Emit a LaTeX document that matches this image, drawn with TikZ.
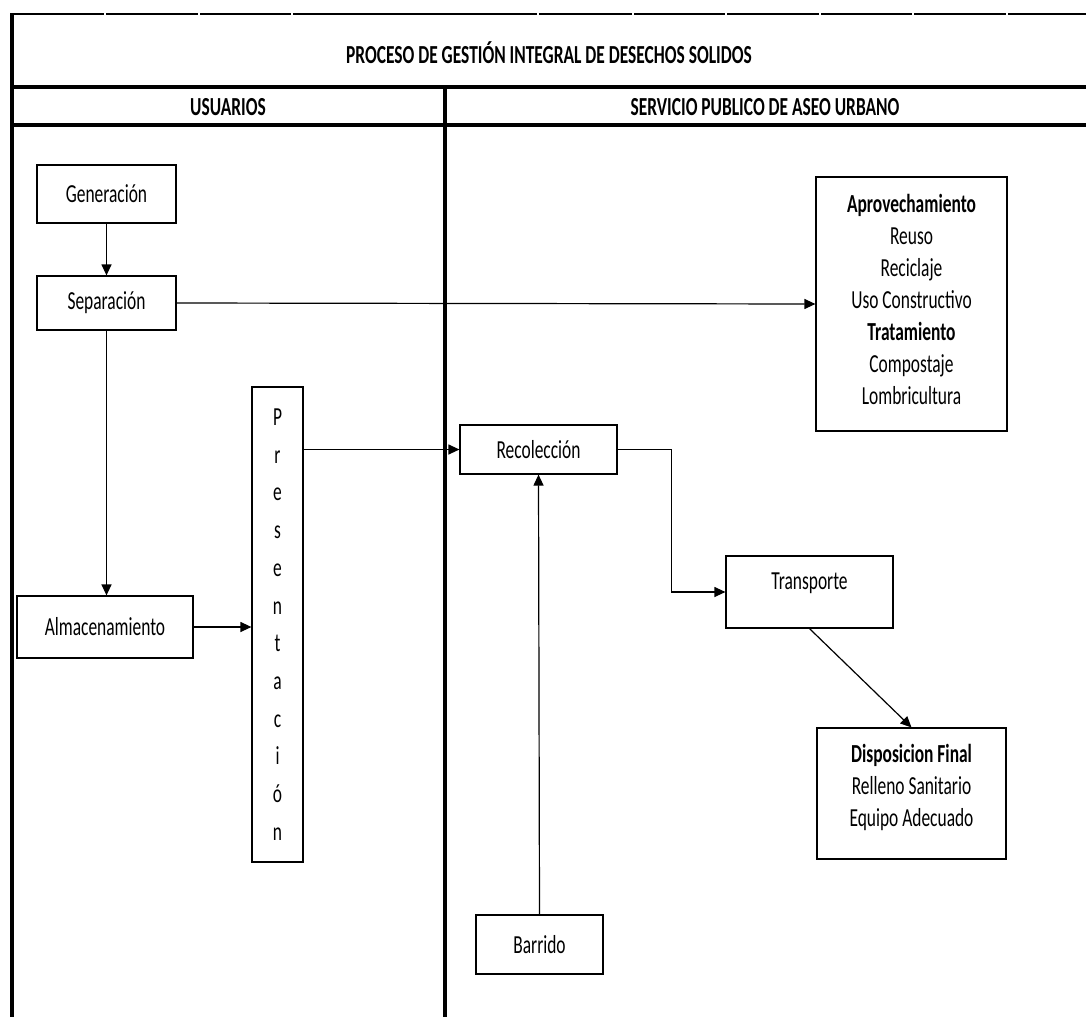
\documentclass[tikz,border=0pt]{standalone}
\usepackage{fontspec}
\setmainfont{Carlito}[FakeStretch=0.67]
\usetikzlibrary{arrows.meta}

\begin{document}
\begin{tikzpicture}[x=1pt,y=-1pt,
	caja/.style={draw,line width=1.2pt,inner sep=0pt,align=center,font=\fontsize{26}{32}\selectfont},
	flecha/.style={line width=1.2pt,-{Triangle[length=11pt,width=10pt]}},
	rejilla/.style={line width=3.5pt},
	titulo/.style={font=\bfseries\fontsize{26}{32}\selectfont}]
	\useasboundingbox (0,0) rectangle (1086,1017);
	% tabla
	\draw[line width=2pt] (12,14) -- (1086,14);
	\foreach \gx in {105,199,292,538,633,726,820,913,1007}
		\draw[white,line width=1.2pt] (\gx,12.5) -- (\gx,15.5);
	\draw[rejilla] (12,13) -- (12,1017);
	\draw[rejilla] (12,87) -- (1086,87);
	\draw[rejilla] (12,125) -- (1086,125);
	\draw[rejilla] (445,87) -- (445,1017);
	\node[titulo] at (549,53) (tit) {PROCESO DE GESTIÓN INTEGRAL DE DESECHOS SOLIDOS};
	\node[titulo] at (228,107) (usu) {USUARIOS};
	\node[titulo] at (765,107) (serv) {SERVICIO PUBLICO DE ASEO URBANO};
	% usuarios
	\node[caja,minimum width=139pt,minimum height=58pt] at (106.5,194) (gen) {Generación};
	\node[caja,minimum width=139pt,minimum height=54pt] at (106.5,303) (sep) {Separación};
	\node[caja,minimum width=176pt,minimum height=62pt] at (105,627) (alm) {Almacenamiento};
	\node[caja,minimum width=51pt,minimum height=475pt,font=\fontsize{26}{37.7}\selectfont] at (277.5,624.5) (pres)
		{P\\r\\e\\s\\e\\n\\t\\a\\c\\i\\ó\\n};
	% servicio
	\node[caja,minimum width=157pt,minimum height=49pt] at (538.5,449.5) (rec) {Recolección};
	\node[caja,minimum width=167pt,minimum height=72pt,
		label={[yshift=9pt,font=\fontsize{26}{32}\selectfont]center:Transporte}] at (809.5,592) (trans) {};
	\node[caja,minimum width=127pt,minimum height=59pt] at (539.5,944.5) (barr) {Barrido};
	\node[caja,minimum width=191pt,minimum height=254pt,
		label={[yshift=5pt,align=center,font=\fontsize{26}{32}\selectfont]center:{\textbf{Aprovechamiento}\\Reuso\\Reciclaje\\Uso Constructivo\\\textbf{Tratamiento}\\Compostaje\\Lombricultura}}]
		at (911.5,304) (aprov) {};
	\node[caja,minimum width=189pt,minimum height=131pt,
		label={[yshift=6pt,align=center,font=\fontsize{26}{32}\selectfont]center:{\textbf{Disposicion Final}\\Relleno Sanitario\\Equipo Adecuado}}]
		at (911.5,793.5) (disp) {};
	% flechas
	\draw[flecha] (gen) -- (sep);
	\draw[flecha] (sep.south) -- (sep.south |- alm.north);
	\draw[flecha] (sep.east) -- (aprov.west);
	\draw[flecha] (alm.east) -- (alm.east -| pres.west);
	\draw[flecha] (pres.east |- rec.west) -- (rec.west);
	\draw[flecha] (barr.north) -- (rec.south);
	\draw[flecha] (rec.east) -- ++(54,0) |- (trans.west);
	\draw[flecha] (trans.south) -- (disp.north);
\end{tikzpicture}
\end{document}
